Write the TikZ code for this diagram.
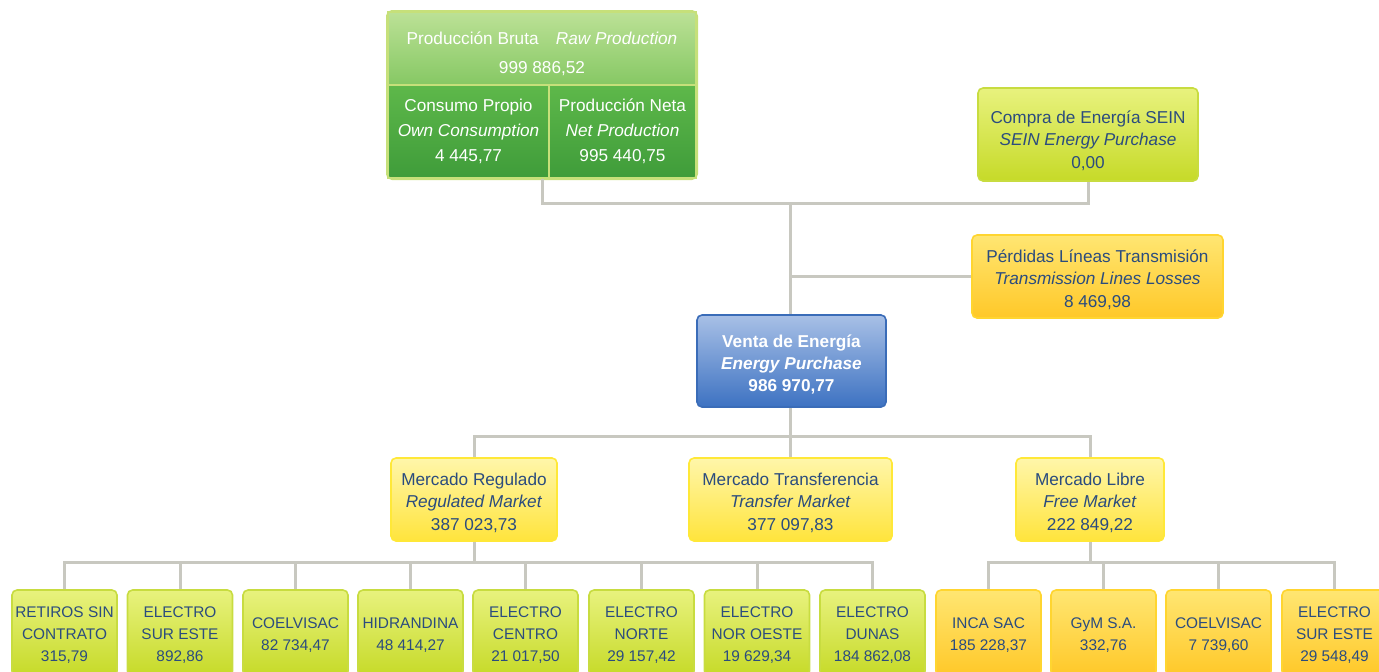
\documentclass[tikz,border=0pt]{standalone}
\usepackage{fontspec}
\setmainfont{Liberation Sans}
\usepackage{xcolor}
\usetikzlibrary{positioning}

\definecolor{txtblue}{HTML}{2B4C7E}
\definecolor{wiregray}{HTML}{C8C8C0}
\definecolor{grnline}{HTML}{C6E07A}
\definecolor{grntop}{HTML}{BCE196}
\definecolor{grnmid}{HTML}{86C864}
\definecolor{grndark}{HTML}{5EB84A}
\definecolor{grnbot}{HTML}{3F9C3A}
\definecolor{limeline}{HTML}{C8DC40}
\definecolor{limetop}{HTML}{E8F27E}
\definecolor{limebot}{HTML}{C6DA28}
\definecolor{goldline}{HTML}{FFD530}
\definecolor{goldtop}{HTML}{FFE672}
\definecolor{goldbot}{HTML}{FFC828}
\definecolor{yelline}{HTML}{FFE838}
\definecolor{yeltop}{HTML}{FFF6AA}
\definecolor{yelbot}{HTML}{FFE43C}
\definecolor{blueline}{HTML}{3A6CB8}
\definecolor{bluetop}{HTML}{A8C0E6}
\definecolor{bluebot}{HTML}{3D72C2}

% strut for the first line of a box
\newcommand{\lift}[1][9.4pt]{\rule{0pt}{#1}}

\begin{document}
\begin{tikzpicture}[
  x=0.5pt, y=-0.5pt,
  font=\fontsize{8.6}{11.3}\selectfont,
  box/.style={rectangle, rounded corners=2.5pt, align=center, inner sep=0pt, text=txtblue, line width=0.8pt},
  prod/.style={rectangle, align=center, inner sep=0pt, text=white, draw=grnline, line width=1pt},
  sein/.style={box, draw=limeline, top color=limetop, bottom color=limebot},
  loss/.style={box, draw=goldline, top color=goldtop, bottom color=goldbot},
  venta/.style={box, draw=blueline, top color=bluetop, bottom color=bluebot, text=white, font=\fontsize{8.6}{11}\selectfont\bfseries},
  mercado/.style={box, draw=yelline, top color=yeltop, bottom color=yelbot, minimum height=41.5pt},
  client/.style={box, draw=limeline, top color=limetop, bottom color=limebot, minimum width=52.5pt, minimum height=43pt,
    font=\fontsize{7.7}{11.2}\selectfont},
  freeclient/.style={client, draw=goldline, top color=goldtop, bottom color=goldbot},
  wire/.style={draw=wiregray, line width=1.5pt}
]
  \useasboundingbox (0,0) rectangle (1379,671);

  % production block
  \node [prod, top color=grntop, bottom color=grnmid, minimum width=154pt, minimum height=36.5pt] (bruta) at (542,48.5)
    {\lift[11.4pt]Producción Bruta\quad\textit{Raw Production}\\[3pt]999 886,52};
  \node [prod, top color=grndark, bottom color=grnbot, minimum width=80.5pt, minimum height=46.5pt] (propio) at (468.5,131.5)
    {Consumo Propio\\[1.2pt]\textit{Own Consumption}\\[1.2pt]4 445,77};
  \node [prod, top color=grndark, bottom color=grnbot, minimum width=73.5pt, minimum height=46.5pt] (neta) at (622.5,131.5)
    {Producción Neta\\[1.2pt]\textit{Net Production}\\[1.2pt]995 440,75};
  \draw [grnline, line width=1pt, rounded corners=2.5pt] (bruta.north west) rectangle (neta.south east);

  \node [sein, minimum width=110pt, minimum height=46.5pt] (sein) at (1088,134.5)
    {\lift[12.4pt]Compra de Energía SEIN\\\textit{SEIN Energy Purchase}\\0,00};
  \node [loss, minimum width=125.5pt, minimum height=41.5pt] (loss) at (1097.5,276.5)
    {\lift Pérdidas Líneas Transmisión\\\textit{Transmission Lines Losses}\\8 469,98};
  \node [venta, minimum width=94.5pt, minimum height=46pt] (venta) at (791.5,361)
    {\lift Venta de Energía\\\textit{Energy Purchase}\\986 970,77};

  % markets
  \node [mercado, minimum width=83pt] (regulado) at (474,499.5)
    {\lift Mercado Regulado\\\textit{Regulated Market}\\387 023,73};
  \node [mercado, minimum width=101.5pt] (transfer) at (790.5,499.5)
    {\lift Mercado Transferencia\\\textit{Transfer Market}\\377 097,83};
  \node [mercado, minimum width=74pt] (libre) at (1090,499.5)
    {\lift Mercado Libre\\\textit{Free Market}\\222 849,22};

  % clients
  \node [client] (retiros) at (64.5,633) {\lift[7.4pt]RETIROS SIN\\CONTRATO\\315,79};
  \node [client] (surEste) at (180,633) {\lift[7.4pt]ELECTRO\\SUR ESTE\\892,86};
  \node [client] (coelvisac) at (295.5,633) {\lift[7.4pt]COELVISAC\\82 734,47};
  \node [client] (hidrandina) at (410.5,633) {\lift[7.4pt]HIDRANDINA\\48 414,27};
  \node [client] (centro) at (525.5,633) {\lift[7.4pt]ELECTRO\\CENTRO\\21 017,50};
  \node [client] (norte) at (641.5,633) {\lift[7.4pt]ELECTRO\\NORTE\\29 157,42};
  \node [client] (norOeste) at (757,633) {\lift[7.4pt]ELECTRO\\NOR OESTE\\19 629,34};
  \node [client] (dunas) at (872.5,633) {\lift[7.4pt]ELECTRO\\DUNAS\\184 862,08};
  \node [freeclient] (inca) at (988.5,633) {\lift[7.4pt]INCA SAC\\185 228,37};
  \node [freeclient] (gym) at (1103.5,633) {\lift[7.4pt]GyM S.A.\\332,76};
  \node [freeclient] (coelvisacL) at (1218.5,633) {\lift[7.4pt]COELVISAC\\7 739,60};
  \node [freeclient] (surEsteL) at (1334.5,633) {\lift[7.4pt]ELECTRO\\SUR ESTE\\29 548,49};

  % connectors
  \coordinate (hub) at (790,203);
  \coordinate (split) at (790,436);
  \coordinate (busR) at (474,562);
  \coordinate (busL) at (1090,562);

  \draw [wire] (bruta.center |- propio.south) |- (hub) -| (sein.south);
  \draw [wire] (hub) -- (hub |- venta.north);
  \draw [wire] (hub |- loss.west) -- (loss.west);
  \draw [wire] (hub |- venta.south) -- (split);
  \draw [wire] (regulado.north) |- (split) -| (libre.north);
  \draw [wire] (split) -- (split |- transfer.north);

  \draw [wire] (regulado.south) -- (busR);
  \draw [wire] (retiros.north) |- (busR) -| (dunas.north);
  \draw [wire] (surEste.north) -- (surEste.north |- busR);
  \draw [wire] (coelvisac.north) -- (coelvisac.north |- busR);
  \draw [wire] (hidrandina.north) -- (hidrandina.north |- busR);
  \draw [wire] (centro.north) -- (centro.north |- busR);
  \draw [wire] (norte.north) -- (norte.north |- busR);
  \draw [wire] (norOeste.north) -- (norOeste.north |- busR);

  \draw [wire] (libre.south) -- (busL);
  \draw [wire] (inca.north) |- (busL) -| (surEsteL.north);
  \draw [wire] (gym.north) -- (gym.north |- busL);
  \draw [wire] (coelvisacL.north) -- (coelvisacL.north |- busL);
\end{tikzpicture}
\end{document}
